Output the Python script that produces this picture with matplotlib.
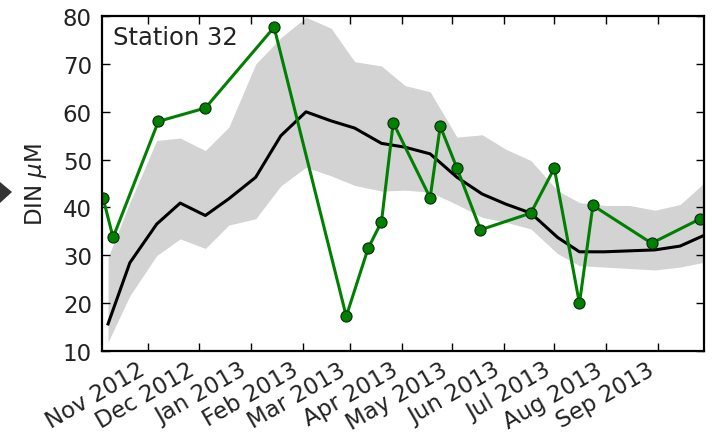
import matplotlib
matplotlib.use("Agg")
import matplotlib.pyplot as plt
from matplotlib.patches import Polygon
from datetime import datetime

plt.rcParams["font.family"] = ["DejaVu Sans"]
plt.rcParams["mathtext.fontset"] = "dejavusans"

# Observations at Station 32
obs_dates = ["2012-10-05", "2012-10-11", "2012-11-07", "2012-12-05", "2013-01-15",
             "2013-02-27", "2013-03-12", "2013-03-20", "2013-03-27", "2013-04-18",
             "2013-04-24", "2013-05-04", "2013-05-18", "2013-06-17", "2013-07-01",
             "2013-07-16", "2013-07-24", "2013-08-28", "2013-09-26"]
obs_din = [42.0, 33.7, 58.0, 60.8, 77.7, 17.2, 31.4, 37.0, 57.7, 42.0,
           57.0, 48.2, 35.3, 38.8, 48.2, 19.9, 40.4, 32.5, 37.6]

# Climatology (mean and envelope)
clim_dates = ["2012-10-08", "2012-10-21", "2012-11-06", "2012-11-20", "2012-12-05",
              "2012-12-19", "2013-01-04", "2013-01-19", "2013-02-03", "2013-02-18",
              "2013-03-04", "2013-03-20", "2013-04-03", "2013-04-18", "2013-05-04",
              "2013-05-19", "2013-06-02", "2013-06-17", "2013-07-03", "2013-07-16",
              "2013-07-31", "2013-08-15", "2013-08-30", "2013-09-14", "2013-09-28"]
clim_mean = [15.6, 28.4, 36.5, 40.9, 38.3, 41.8, 46.3, 55.0, 60.0, 58.1,
             56.6, 53.4, 52.6, 51.2, 46.3, 42.8, 40.7, 38.8, 33.7, 30.7,
             30.7, 30.9, 31.1, 31.9, 34.1]
clim_upper = [29.5, 41.0, 54.0, 54.5, 51.9, 56.8, 70.0, 75.5, 79.8, 77.5,
              70.5, 69.6, 65.5, 64.2, 54.7, 55.2, 52.2, 49.8, 43.5, 41.0,
              40.4, 40.4, 39.4, 40.6, 45.0]
clim_lower = [11.8, 21.5, 29.9, 33.4, 31.4, 36.3, 37.6, 44.5, 48.4, 46.6,
              44.6, 43.4, 43.6, 43.2, 40.6, 37.9, 36.9, 35.5, 30.3, 27.8,
              27.5, 27.2, 26.9, 27.5, 28.5]

tick_dates = ["2012-11-01", "2012-12-01", "2013-01-01", "2013-02-01", "2013-03-01",
              "2013-04-01", "2013-05-01", "2013-06-01", "2013-07-01", "2013-08-01",
              "2013-09-01"]
tick_labels = ["Nov 2012", "Dec 2012", "Jan 2013", "Feb 2013", "Mar 2013", "Apr 2013",
               "May 2013", "Jun 2013", "Jul 2013", "Aug 2013", "Sep 2013"]
y_ticks = [10, 20, 30, 40, 50, 60, 70, 80]

to_dt = lambda s: datetime.strptime(s, "%Y-%m-%d")
od = [to_dt(s) for s in obs_dates]
cd = [to_dt(s) for s in clim_dates]
td = [to_dt(s) for s in tick_dates]

fig = plt.figure(figsize=(7.12, 4.39), dpi=100)
ax = fig.add_axes([0.1428, 0.1989, 0.8464, 0.7617])

ax.fill_between(cd, clim_lower, clim_upper, color="#d3d3d3", linewidth=0, zorder=1)
ax.plot(cd, clim_mean, color="black", linewidth=2.2, zorder=2)
ax.plot(od, obs_din, color="green", linewidth=2.2, marker="o", markersize=8,
        markerfacecolor="green", markeredgecolor="#0a2a0a", markeredgewidth=0.8,
        zorder=3, clip_on=True)

ax.set_xlim(datetime(2012, 10, 4, 5), datetime(2013, 9, 28, 10))
ax.set_ylim(10, 80)
ax.set_yticks(y_ticks)
ax.set_xticks(td)
ax.set_xticklabels(tick_labels, rotation=30, ha="right")

ax.tick_params(direction="in", length=6, width=1, top=True, right=True,
               labelsize=16.5, colors="black", labelcolor="#222222")
ax.tick_params(axis="y", pad=7)
ax.tick_params(axis="x", pad=5)
for sp in ax.spines.values():
    sp.set_linewidth(1.6)
    sp.set_zorder(5)

ax.set_ylabel(r"DIN $\mu$M", fontsize=16.5, color="#222222", labelpad=10)
ax.text(0.018, 0.975, "Station 32", transform=ax.transAxes, fontsize=17.5,
        va="top", ha="left", color="#222222")

# small dark arrow at left edge (cropped element)
tri = Polygon([[0, 439 - 183], [12, 439 - 193], [0, 439 - 204]], closed=True,
              transform=None, facecolor="#333333", edgecolor="none")
fig.patches.append(tri)

fig.savefig("out.png", dpi=100)
